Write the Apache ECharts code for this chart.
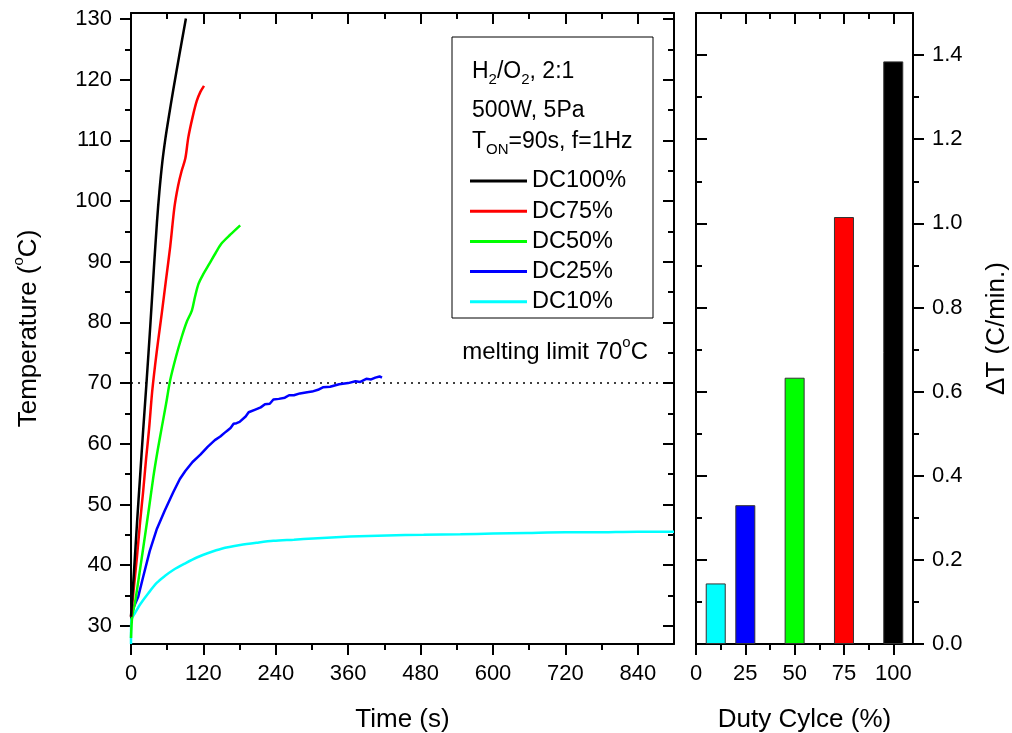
<!DOCTYPE html>
<html>
<head>
<meta charset="utf-8">
<script src="https://cdn.jsdelivr.net/npm/echarts@6/dist/echarts.min.js"></script>
<style>
  html, body { margin: 0; padding: 0; background: #fff; }
  #chart { width: 1012px; height: 733px; }
</style>
</head>
<body>
<div id="chart"></div>
<script>
// 左：升温曲线 (Temperature vs Time)；右：升温速率柱图 (ΔT vs Duty Cycle)
const FONT = 'Liberation Sans, Arial, sans-serif';

// --- 数据 ---
const timeTicks = [0, 120, 240, 360, 480, 600, 720, 840];
const timeMinor = [60, 180, 300, 420, 540, 660, 780];
const tempTicks = [30, 40, 50, 60, 70, 80, 90, 100, 110, 120, 130];
const tempMinor = [35, 45, 55, 65, 75, 85, 95, 105, 115, 125];
const dutyTicks = [0, 25, 50, 75, 100];
const dutyMinor = [12.5, 37.5, 62.5, 87.5];
const rateTicks = [0, 0.2, 0.4, 0.6, 0.8, 1.0, 1.2, 1.4];
const rateMinor = [0.1, 0.3, 0.5, 0.7, 0.9, 1.1, 1.3];

const meltLimit = 70;

const dc100 = [[0,31.5],[5,39],[10,47],[15,54.5],[20,62],[26,70.5],[32,79.5],[38,89],[43,96.5],[47,101.5],
  [52,106.5],[57,110.3],[62,113.5],[70,118.3],[80,124],[91,130.1]];
const dc75 = [[0,31.5],[5,36.5],[10,41.5],[15,47],[20,52],[25,57.5],[30,62.5],[35,68.5],[40,73],[45,77],
  [51,81.5],[58,87],[65,92.5],[72,99],[78,102.5],[84,105],[90,107],[95,110.5],[102,113.8],[109,116.5],[115,118],[121,119]];
const dc50 = [[0,28],[2,31.5],[6.6,33.8],[15,39.3],[23,44.7],[30,49.5],[37,54.5],[44,58.8],[51,62.7],[58,66.5],
  [65,70.5],[75,74.5],[84,77.6],[92,80],[101,82],[106,84.2],[112,86.4],[120,88],[130,89.7],[140,91.4],
  [150,93],[165,94.5],[181,96]];
const dc25 = [[0,31.5],[5,33.2],[12,34.8],[20,38],[31,42.3],[43,46],[56,49],[70,52],[81,54.2],[90,55.5],
  [102,57],[115,58.2],[127,59.5],[139,60.6],[148,61.2],[155,61.8],[160,62.2],[165,62.6],[170,63.3],[175,63.4],
  [180,63.6],[190,64.5],[195,65.2],[205,65.6],[215,66],[222,66.5],[230,66.6],[236,67.3],[245,67.4],[255,67.6],
  [262,68],[270,68],[280,68.3],[292,68.5],[300,68.6],[310,68.9],[318,69.3],[330,69.4],[345,69.8],[360,70],
  [372,70.3],[380,70.2],[390,70.7],[398,70.6],[405,70.9],[412,71.1],[416,70.9]];
const dc10 = [[0,27],[0.5,31],[3,31.5],[6.6,32.1],[15,33.5],[29,35.4],[43,37.1],[56,38.2],[70,39.2],[90,40.3],
  [110,41.3],[128,42],[150,42.7],[181,43.3],[210,43.7],[236,44],[270,44.2],[302,44.4],[363,44.7],[424,44.9],
  [485,45],[546,45.1],[600,45.2],[657,45.3],[720,45.4],[767,45.4],[840,45.5],[900,45.5]];

const dutyCycles = [10, 25, 50, 75, 100];
const rateValues = [0.144, 0.330, 0.633, 1.015, 1.385];
const barColors = ['#00ffff', '#0000ff', '#00ff00', '#ff0000', '#000000'];

const curves = [
  { name: 'DC100%', data: dc100, color: '#000000' },
  { name: 'DC75%', data: dc75, color: '#ff0000' },
  { name: 'DC50%', data: dc50, color: '#00ff00' },
  { name: 'DC25%', data: dc25, color: '#0000ff' },
  { name: 'DC10%', data: dc10, color: '#00ffff' },
];

// 每条边一对轴：主刻度（带轴线/标签）+ 次刻度（短刻度）
function axisPair(gridIndex, position, min, max, majors, minors, o) {
  const tickStyle = { color: '#000', width: 2 };
  const major = Object.assign({
    type: 'value', gridIndex, position, min, max,
    axisLine: { show: true, onZero: false, lineStyle: { color: '#000', width: 2 } },
    splitLine: { show: false },
    axisTick: { show: true, inside: !!o.inside, length: 11, customValues: majors, lineStyle: tickStyle },
    axisLabel: o.labels
      ? { show: true, customValues: majors, margin: 19, color: '#000', fontSize: 22, fontFamily: FONT, formatter: o.fmt }
      : { show: false },
  }, o.extra || {});
  const minor = {
    type: 'value', gridIndex, position, min, max,
    axisLine: { show: false, onZero: false },
    splitLine: { show: false },
    axisTick: { show: true, inside: !!o.inside, length: 6, customValues: minors, lineStyle: tickStyle },
    axisLabel: { show: false },
  };
  return [major, minor];
}

const nameStyle = {
  color: '#000', fontSize: 26, fontFamily: FONT, lineHeight: 36,
  rich: { sup: { fontSize: 15, lineHeight: 15, verticalAlign: 'top', fontFamily: FONT, color: '#000' } },
};

const xAxes = [
  ...axisPair(0, 'bottom', 0, 900, timeTicks, timeMinor, {
    labels: true, fmt: v => String(v),
    extra: { name: 'Time (s)', nameLocation: 'middle', nameGap: 58, nameTextStyle: nameStyle },
  }),
  ...axisPair(0, 'top', 0, 900, timeTicks, timeMinor, { inside: true }),
  ...axisPair(1, 'bottom', 0, 110, dutyTicks, dutyMinor, {
    labels: true, fmt: v => String(v),
    extra: { name: 'Duty Cylce (%)', nameLocation: 'middle', nameGap: 58, nameTextStyle: nameStyle },
  }),
  ...axisPair(1, 'top', 0, 110, dutyTicks, dutyMinor, { inside: true }),
];

const yAxes = [
  ...axisPair(0, 'left', 27, 131, tempTicks, tempMinor, {
    labels: true, fmt: v => String(v),
    extra: { name: 'Temperature ({sup|o}C)', nameLocation: 'middle', nameGap: 84, nameTextStyle: nameStyle },
  }),
  ...axisPair(0, 'right', 27, 131, tempTicks, tempMinor, { inside: true }),
  ...axisPair(1, 'left', 0, 1.5, rateTicks, rateMinor, { inside: true }),
  ...axisPair(1, 'right', 0, 1.5, rateTicks, rateMinor, {
    labels: true, fmt: v => v.toFixed(1),
    extra: { name: '\u0394T (C/min.)', nameLocation: 'middle', nameGap: 66, nameTextStyle: nameStyle },
  }),
];

const lineSeries = curves.map((c, i) => ({
  name: c.name,
  type: 'line',
  xAxisIndex: 0, yAxisIndex: 0,
  data: c.data,
  symbol: 'none',
  smooth: c.name === 'DC25%' ? false : 0.3,
  lineStyle: { color: c.color, width: 2.5 },
  itemStyle: { color: c.color },
  z: 10 - i,
}));

// 熔化极限虚线
lineSeries.push({
  type: 'line', xAxisIndex: 0, yAxisIndex: 0, data: [], silent: true,
  markLine: {
    silent: true, symbol: 'none', label: { show: false },
    lineStyle: { color: '#000', type: [2, 5], width: 1.5 },
    data: [{ yAxis: meltLimit }],
  },
});

const barSeries = {
  type: 'bar',
  xAxisIndex: 4, yAxisIndex: 4,
  barWidth: 20,
  data: dutyCycles.map((d, i) => ({ value: [d, rateValues[i]], itemStyle: { color: barColors[i] } })),
  itemStyle: { borderColor: '#333', borderWidth: 1 },
};

const subRich = {
  sub: { fontSize: 15, lineHeight: 15, verticalAlign: 'bottom', fontFamily: FONT, fill: '#000' },
  n: { fontSize: 23, lineHeight: 30, fontFamily: FONT, fill: '#000' },
};

const chart = echarts.init(document.getElementById('chart'), null, { renderer: 'canvas' });
chart.setOption({
  animation: false,
  backgroundColor: '#fff',
  textStyle: { fontFamily: FONT },
  grid: [
    { left: 131, right: 338, top: 13, bottom: 89, containLabel: false, outerBoundsMode: 'none' },
    { left: 696, right: 99, top: 13, bottom: 89, containLabel: false, outerBoundsMode: 'none' },
  ],
  xAxis: xAxes,
  yAxis: yAxes,
  legend: {
    data: curves.map(c => ({ name: c.name, icon: 'rect' })),
    orient: 'vertical',
    left: 465, top: 164,
    itemWidth: 57, itemHeight: 3, itemGap: 6.2,
    selectedMode: false,
    textStyle: { color: '#000', fontSize: 23.5, fontFamily: FONT, lineHeight: 24 },
  },
  graphic: [
    { type: 'rect', shape: { x: 452, y: 37, width: 201, height: 281 }, style: { fill: 'none', stroke: '#000', lineWidth: 1 }, z: 20 },
    { type: 'text', x: 472, y: 72, style: { text: '{n|H}{sub|2}{n|/O}{sub|2}{n|, 2:1}', rich: subRich, verticalAlign: 'middle', fill: '#000' }, z: 20 },
    { type: 'text', x: 472, y: 111, style: { text: '{n|500W, 5Pa}', rich: subRich, verticalAlign: 'middle', fill: '#000' }, z: 20 },
    { type: 'text', x: 472, y: 142, style: { text: '{n|T}{sub|ON}{n|=90s, f=1Hz}', rich: subRich, verticalAlign: 'middle', fill: '#000' }, z: 20 },
    {
      type: 'text', x: 648, y: 352,
      style: {
        text: '{n|melting limit 70}{sup|o}{n|C}', align: 'right', verticalAlign: 'middle', fill: '#000',
        rich: {
          n: { fontSize: 24, lineHeight: 34, fontFamily: FONT, fill: '#000' },
          sup: { fontSize: 15, lineHeight: 15, verticalAlign: 'top', fontFamily: FONT, fill: '#000' },
        },
      },
      z: 20,
    },
  ],
  series: [...lineSeries, barSeries],
});
</script>
</body>
</html>
